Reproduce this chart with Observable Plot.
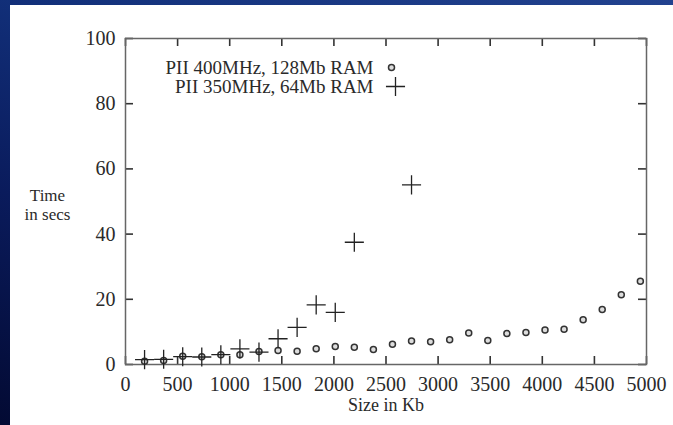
<!DOCTYPE html>
<html><head><meta charset="utf-8">
<script src="https://cdn.jsdelivr.net/npm/d3@7"></script>
<script src="https://cdn.jsdelivr.net/npm/@observablehq/plot@0.6"></script>
<style>
html,body{margin:0;padding:0;width:673px;height:425px;overflow:hidden;}
body{background:linear-gradient(200deg,#22428f 0%,#12307a 35%,#0a1b5c 65%,#030a33 100%);}
#panel{position:absolute;left:10px;top:5px;width:663px;height:420px;background:#fff;}
</style></head>
<body><div id="panel"></div>
<script>
// Series 1: PII 400MHz, 128Mb RAM (circles)
const sizesPII400 = [183,366,549,732,915,1098,1281,1464,1647,1830,2013,2196,2379,2562,2745,2928,3111,3294,3477,3660,3843,4026,4209,4392,4575,4758,4941];
const timesPII400 = [1.0,1.2,2.5,2.4,3.0,3.0,4.0,4.3,4.1,4.8,5.5,5.3,4.6,6.2,7.2,7.0,7.6,9.7,7.4,9.5,9.8,10.6,10.8,13.7,16.9,21.4,25.5];
// Series 2: PII 350MHz, 64Mb RAM (plus signs)
const sizesPII350 = [183,366,549,732,915,1098,1281,1464,1647,1830,2013,2196,2745];
const timesPII350 = [1.5,1.6,2.4,2.3,3.0,4.8,3.8,7.9,11.4,18.3,16.0,37.5,55.1];
const xTicks = [0,500,1000,1500,2000,2500,3000,3500,4000,4500,5000];
const yTicks = [0,20,40,60,80,100];
const legendLabels = ["PII 400MHz, 128Mb RAM", "PII 350MHz, 64Mb RAM"];
const xLabel = "Size in Kb";
const yLabel = "Time\nin secs";

const data400 = sizesPII400.map((s,i)=>({size:s,time:timesPII400[i]}));
const data350 = sizesPII350.map((s,i)=>({size:s,time:timesPII350[i]}));

const W=663,H=420,mL=115,mR=27,mT=33,mB=61;
const fw=W-mL-mR, fh=H-mT-mB, tk=8;
const font="'Liberation Serif', 'Times New Roman', serif";
const ink="#2a2a2a";
const fmt = d => String(d);

const chart = Plot.plot({
  width:W,height:H,marginLeft:mL,marginRight:mR,marginTop:mT,marginBottom:mB,
  style:{background:"transparent",fontFamily:font,color:ink},
  x:{domain:[0,5000]},
  y:{domain:[0,100]},
  marks:[
    Plot.ruleX(xTicks,{x:d=>d,insetTop:fh-tk,stroke:"#333",strokeWidth:1.6}),
    Plot.ruleX(xTicks,{x:d=>d,insetBottom:fh-tk,stroke:"#333",strokeWidth:1.6}),
    Plot.ruleY(yTicks,{y:d=>d,insetRight:fw-tk,stroke:"#333",strokeWidth:1.6}),
    Plot.ruleY(yTicks,{y:d=>d,insetLeft:fw-tk,stroke:"#333",strokeWidth:1.6}),
    Plot.frame({stroke:"#666",strokeWidth:1.5}),
    Plot.axisX({ticks:xTicks,tickFormat:fmt,tickSize:0,tickPadding:12,fontSize:20,label:null,fill:ink}),
    Plot.axisY({ticks:yTicks,tickFormat:fmt,tickSize:0,tickPadding:10,fontSize:20,label:null,fill:ink}),
    Plot.text([xLabel],{frameAnchor:"bottom",dy:41,lineAnchor:"middle",textAnchor:"middle",fontSize:18,fill:ink}),
    Plot.text([yLabel],{frameAnchor:"left",dx:-78,dy:3,textAnchor:"middle",lineAnchor:"middle",fontSize:17,lineHeight:1.1,fill:ink}),
    Plot.dot(data400,{x:"size",y:"time",r:3,stroke:"#333",fill:"#ddd",strokeWidth:1.5}),
    Plot.dot(data350,{x:"size",y:"time",symbol:"plus",r:6.2,stroke:"#222",strokeWidth:1.3}),
    Plot.text([legendLabels[0]],{frameAnchor:"top-left",dx:248,dy:29,textAnchor:"end",lineAnchor:"middle",fontSize:19,fill:ink}),
    Plot.text([legendLabels[1]],{frameAnchor:"top-left",dx:248,dy:48,textAnchor:"end",lineAnchor:"middle",fontSize:19,fill:ink}),
    Plot.dot([legendLabels[0]],{frameAnchor:"top-left",dx:266,dy:29,r:3,stroke:"#333",fill:"#ddd",strokeWidth:1.5}),
    Plot.dot([legendLabels[1]],{frameAnchor:"top-left",dx:270,dy:48,symbol:"plus",r:6.2,stroke:"#222",strokeWidth:1.3})
  ]
});
document.getElementById("panel").appendChild(chart);
</script>
</body></html>
